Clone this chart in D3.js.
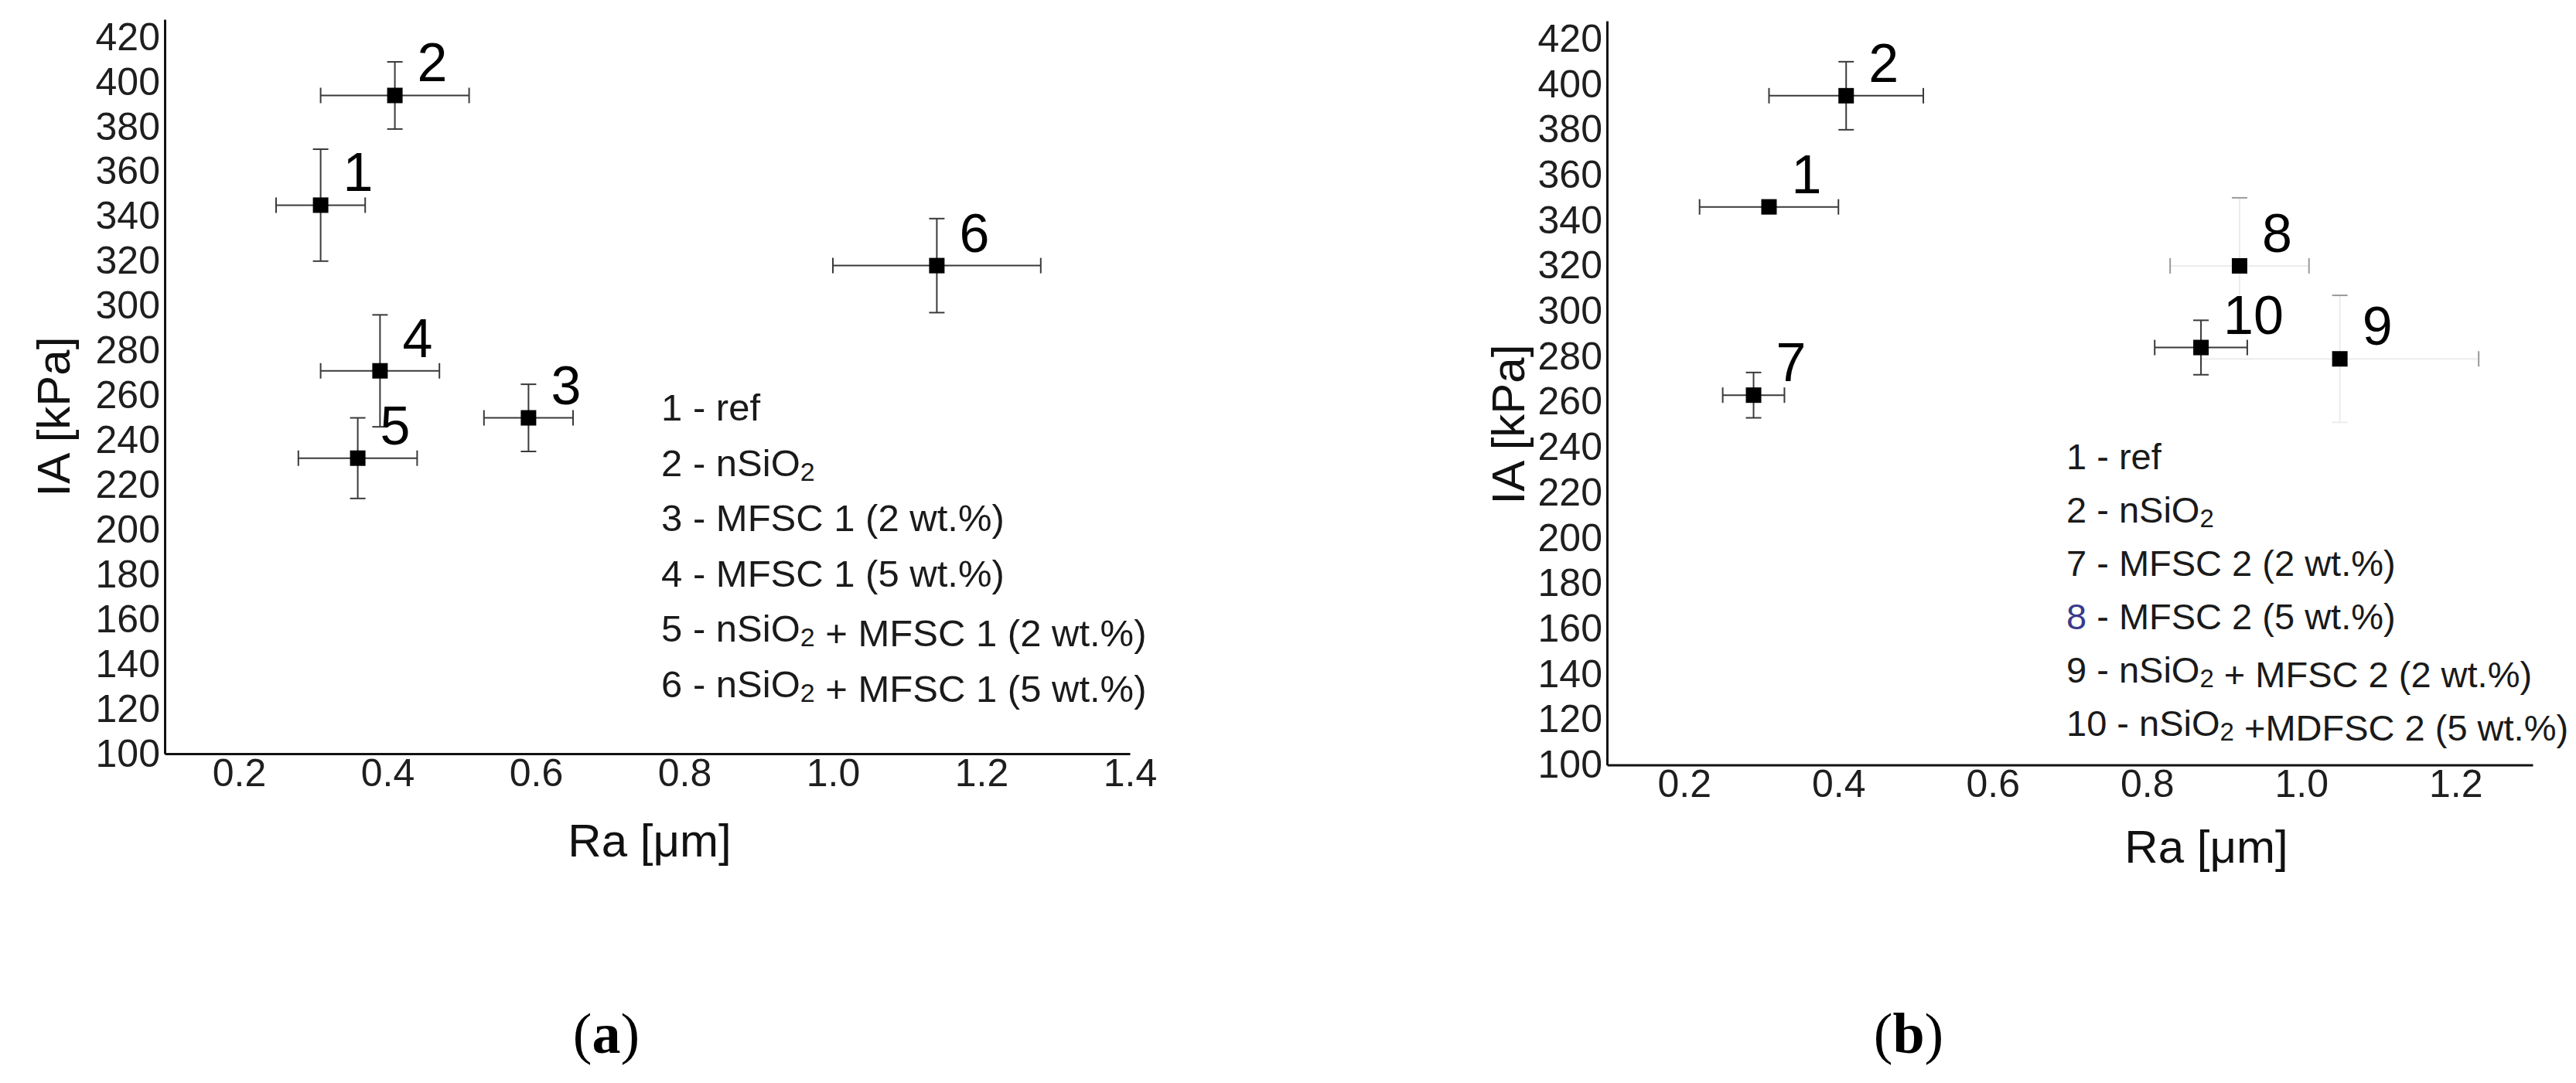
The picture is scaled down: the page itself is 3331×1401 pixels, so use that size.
<!DOCTYPE html>
<html>
<head>
<meta charset="utf-8">
<script src="https://cdn.jsdelivr.net/npm/d3@7"></script>
<style>
  body { margin: 0; background: #fff; }
  text { font-family: "Liberation Sans", Arial, sans-serif; }
</style>
</head>
<body>
<script>
// panel (a)
const labelsA = ["1", "2", "3", "4", "5", "6"];
const raA = [0.31, 0.41, 0.59, 0.39, 0.36, 1.14];
const raErrA = [0.06, 0.10, 0.06, 0.08, 0.08, 0.14];
const iaA = [345, 394, 250, 271, 232, 318];
const iaErrA = [25, 15, 15, 25, 18, 21];
const legendA = ["1 - ref", "2 - nSiO2", "3 - MFSC 1 (2 wt.%)", "4 - MFSC 1 (5 wt.%)",
  "5 - nSiO2 + MFSC 1 (2 wt.%)", "6 - nSiO2 + MFSC 1 (5 wt.%)"];
const xTicksA = [0.2, 0.4, 0.6, 0.8, 1.0, 1.2, 1.4];

// panel (b)
const labelsB = ["1", "2", "7", "8", "9", "10"];
const raB = [0.31, 0.41, 0.29, 0.92, 1.05, 0.87];
const raErrB = [0.09, 0.10, 0.04, 0.09, 0.18, 0.06];
const iaB = [346, 395, 263, 320, 279, 284];
const iaErrB = [0, 15, 10, 30, 28, 12];
const legendB = ["1 - ref", "2 - nSiO2", "7 - MFSC 2 (2 wt.%)", "8 - MFSC 2 (5 wt.%)",
  "9 - nSiO2 + MFSC 2 (2 wt.%)", "10 - nSiO2 +MDFSC 2 (5 wt.%)"];
const xTicksB = [0.2, 0.4, 0.6, 0.8, 1.0, 1.2];

const yTicks = d3.range(100, 421, 20);

const svg = d3.select("body").append("svg")
  .attr("width", 3331)
  .attr("height", 1401);

const panels = [
  {
    labels: labelsA, ra: raA, raErr: raErrA, ia: iaA, iaErr: iaErrA, legend: legendA, xTicks: xTicksA,
    x: d3.scaleLinear().domain([0.1, 1.4]).range([213, 1461]),
    y: d3.scaleLinear().domain([100, 428]).range([975, 25]),
    yTitle: [90, 539], xTitle: [840, 1108], legendPos: [855, 544, 71.5], legendSize: 49,
    caption: "a", capPos: [784, 1362], faint: []
  },
  {
    labels: labelsB, ra: raB, raErr: raErrB, ia: iaB, iaErr: iaErrB, legend: legendB, xTicks: xTicksB,
    x: d3.scaleLinear().domain([0.1, 1.3]).range([2078, 3275]),
    y: d3.scaleLinear().domain([100, 428]).range([989.5, 27]),
    yTitle: [1971, 549], xTitle: [2853, 1116], legendPos: [2672, 607, 69], legendSize: 47,
    caption: "b", capPos: [2468, 1362], faint: ["8", "9"]
  }
];

panels.forEach(p => {
  const g = svg.append("g");
  const [x0] = p.x.range();
  const [y0] = p.y.range();

  // axes
  const yAxis = g.append("g")
    .attr("transform", `translate(${x0},0)`)
    .call(d3.axisLeft(p.y).tickValues(yTicks).tickSize(0).tickPadding(6).tickSizeOuter(0));
  const xAxis = g.append("g")
    .attr("transform", `translate(0,${y0})`)
    .call(d3.axisBottom(p.x).tickValues(p.xTicks).tickFormat(d3.format(".1f")).tickSize(0).tickPadding(6).tickSizeOuter(0));
  [yAxis, xAxis].forEach(a => {
    a.select(".domain").attr("stroke", "#111").attr("stroke-width", 3);
    a.selectAll("text")
      .style("font-family", "'Liberation Sans', Arial, sans-serif")
      .style("font-size", "50px")
      .attr("fill", "#1e1e1e");
  });

  // axis titles
  g.append("text")
    .attr("transform", `translate(${p.yTitle[0]},${p.yTitle[1]}) rotate(-90)`)
    .attr("text-anchor", "middle")
    .style("font-size", "60px")
    .attr("fill", "#111")
    .text("IA [kPa]");
  g.append("text")
    .attr("x", p.xTitle[0]).attr("y", p.xTitle[1])
    .attr("text-anchor", "middle")
    .style("font-size", "60px")
    .attr("fill", "#111")
    .text("Ra [μm]");

  // points with error bars
  const pts = p.labels.map((l, i) => ({
    label: l, ra: p.ra[i], raErr: p.raErr[i], ia: p.ia[i], iaErr: p.iaErr[i],
    faint: p.faint.includes(l)
  }));

  const pg = g.selectAll(".pt").data(pts).enter().append("g").attr("class", "pt");
  const lineCol = d => d.faint ? "#ececec" : "#3a3a3a";
  const capCol = d => d.faint ? "#9a9a9a" : "#3a3a3a";

  // horizontal bar
  pg.append("line")
    .attr("x1", d => p.x(d.ra - d.raErr)).attr("x2", d => p.x(d.ra + d.raErr))
    .attr("y1", d => p.y(d.ia)).attr("y2", d => p.y(d.ia))
    .attr("stroke", lineCol).attr("stroke-width", 2);
  [-1, 1].forEach(s => {
    pg.append("line")
      .attr("x1", d => p.x(d.ra + s * d.raErr)).attr("x2", d => p.x(d.ra + s * d.raErr))
      .attr("y1", d => p.y(d.ia) - 10).attr("y2", d => p.y(d.ia) + 10)
      .attr("stroke", capCol).attr("stroke-width", 2);
  });
  // vertical bar
  const vg = pg.filter(d => d.iaErr > 0);
  vg.append("line")
    .attr("x1", d => p.x(d.ra)).attr("x2", d => p.x(d.ra))
    .attr("y1", d => p.y(d.ia - d.iaErr)).attr("y2", d => p.y(d.ia + d.iaErr))
    .attr("stroke", lineCol).attr("stroke-width", 2);
  [-1, 1].forEach(s => {
    vg.append("line")
      .attr("x1", d => p.x(d.ra) - 10).attr("x2", d => p.x(d.ra) + 10)
      .attr("y1", d => p.y(d.ia + s * d.iaErr)).attr("y2", d => p.y(d.ia + s * d.iaErr))
      .attr("stroke", d => (d.faint && s < 0) ? "#ececec" : capCol(d)).attr("stroke-width", 2);
  });

  pg.append("rect")
    .attr("x", d => p.x(d.ra) - 10).attr("y", d => p.y(d.ia) - 10)
    .attr("width", 20).attr("height", 20)
    .attr("fill", "#000");

  pg.append("text")
    .attr("x", d => p.x(d.ra) + 29).attr("y", d => p.y(d.ia) - 18)
    .style("font-size", "70px")
    .attr("fill", "#000")
    .text(d => d.label);

  // legend
  const [lx, ly, step] = p.legendPos;
  p.legend.forEach((s, i) => {
    const t = g.append("text")
      .attr("x", lx).attr("y", ly + i * step)
      .style("font-size", p.legendSize + "px")
      .attr("fill", "#1a1a1a");
    const m = s.match(/^(\d+)(.*)$/);
    t.append("tspan").attr("fill", m[1] === "8" ? "#3a3a8c" : "#1a1a1a").text(m[1]);
    const parts = m[2].split("SiO2");
    parts.forEach((part, j) => {
      t.append("tspan").text(part + (j < parts.length - 1 ? "SiO" : ""));
      if (j < parts.length - 1) {
        t.append("tspan").attr("dy", 6).style("font-size", Math.round(p.legendSize * 0.7) + "px").text("2");
        t.append("tspan").attr("dy", -6).text("");
      }
    });
  });

  // caption
  const cap = g.append("text")
    .attr("x", p.capPos[0]).attr("y", p.capPos[1])
    .attr("text-anchor", "middle")
    .style("font-family", "'Liberation Serif', 'Times New Roman', serif")
    .style("font-size", "74px")
    .attr("fill", "#000");
  cap.append("tspan").text("(");
  cap.append("tspan").style("font-weight", "bold").text(p.caption);
  cap.append("tspan").text(")");
});
</script>
</body>
</html>
